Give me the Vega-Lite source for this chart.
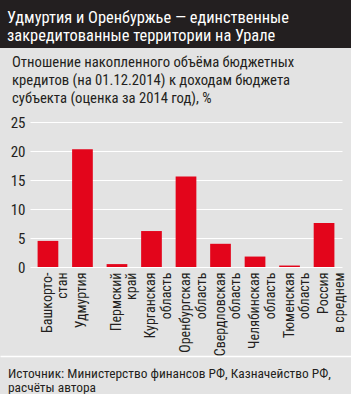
{
  "$schema": "https://vega.github.io/schema/vega-lite/v6.json",
  "background": "#e3e3e3",
  "padding": 0,
  "spacing": 0,
  "columns": 1,
  "bounds": "full",
  "config": {
    "font": "Roboto Condensed, Liberation Sans Narrow, Roboto",
    "view": {"stroke": null}
  },
  "concat": [
    {
      "width": 321,
      "height": 48,
      "data": {"values": [
        {"line": 1, "text": "Удмуртия и Оренбуржье — единственные"},
        {"line": 2, "text": "закредитованные территории на Урале"}
      ]},
      "layer": [
        {
          "mark": {"type": "rect", "color": "#231f20"},
          "encoding": {
            "x": {"datum": 0, "type": "quantitative", "scale": {"domain": [0, 1], "range": [-30, 321]},
              "axis": {"orient": "bottom", "title": null, "labels": false, "ticks": false, "grid": false, "domainOpacity": 0, "minExtent": 6, "maxExtent": 6}},
            "x2": {"datum": 1}
          }
        },
        {
          "mark": {"type": "text", "align": "left", "baseline": "alphabetic", "color": "white", "fontSize": 16.4, "dx": 7},
          "encoding": {
            "x": {"datum": 0, "type": "quantitative"},
            "y": {"field": "line", "type": "ordinal", "axis": null, "scale": {"type": "point", "padding": 0.833, "align": 0.767}},
            "text": {"field": "text"}
          }
        }
      ]
    },
    {
      "width": 312,
      "height": 145,
      "title": {
        "text": ["Отношение накопленного объёма бюджетных", "кредитов (на 01.12.2014) к доходам бюджета", "субъекта (оценка за 2014 год), %"],
        "anchor": "start",
        "frame": "group",
        "dx": -18,
        "fontSize": 14.7,
        "fontWeight": "normal",
        "color": "#231f20",
        "lineHeight": 18.3,
        "offset": 9
      },
      "data": {"values": [
        {"region": "Башкорто-\nстан", "value": 4.5},
        {"region": "Удмуртия", "value": 20.3},
        {"region": "Пермский\nкрай", "value": 0.5},
        {"region": "Курганская\nобласть", "value": 6.2},
        {"region": "Оренбургская\nобласть", "value": 15.6},
        {"region": "Свердловская\nобласть", "value": 4.0},
        {"region": "Челябинская\nобласть", "value": 1.8},
        {"region": "Тюменская\nобласть", "value": 0.25},
        {"region": "Россия\nв среднем", "value": 7.6}
      ]},
      "mark": {"type": "bar", "color": "#e3051b"},
      "encoding": {
        "x": {
          "field": "region", "type": "nominal", "sort": null,
          "scale": {"paddingInner": 0.4, "paddingOuter": 0.22},
          "axis": {
            "title": null, "labelAngle": -90, "labelAlign": "right", "labelBaseline": "middle",
            "labelExpr": "split(datum.value, '\\n')", "labelLineHeight": 15.5,
            "labelFontSize": 14, "labelColor": "#231f20", "labelPadding": 5,
            "ticks": false, "domain": false, "minExtent": 84, "labelLimit": 200
          }
        },
        "y": {
          "field": "value", "type": "quantitative",
          "scale": {"domain": [0, 25], "nice": false},
          "axis": {
            "title": null, "values": [0, 5, 10, 15, 20, 25],
            "labelFontSize": 15, "labelColor": "#231f20", "labelPadding": 5,
            "ticks": false, "domain": false, "gridColor": "white", "gridWidth": 1.2,
            "minExtent": 30
          }
        }
      }
    },
    {
      "width": 321,
      "height": 41,
      "data": {"values": [
        {"line": 1, "text": "Источник: Министерство финансов РФ, Казначейство РФ,"},
        {"line": 2, "text": "расчёты автора"}
      ]},
      "mark": {"type": "text", "align": "left", "baseline": "alphabetic", "color": "#231f20", "fontSize": 13.4, "dx": 8},
      "encoding": {
        "x": {"datum": 0, "type": "quantitative", "scale": {"domain": [0, 1], "range": [-30, 321]},
          "axis": {"orient": "top", "title": null, "labels": false, "ticks": false, "grid": false, "domainColor": "white", "domainWidth": 1.5, "minExtent": 0, "maxExtent": 0}},
        "y": {"field": "line", "type": "ordinal", "axis": null, "scale": {"type": "point", "padding": 1.041, "align": 0.812}},
        "text": {"field": "text"}
      }
    }
  ]
}
